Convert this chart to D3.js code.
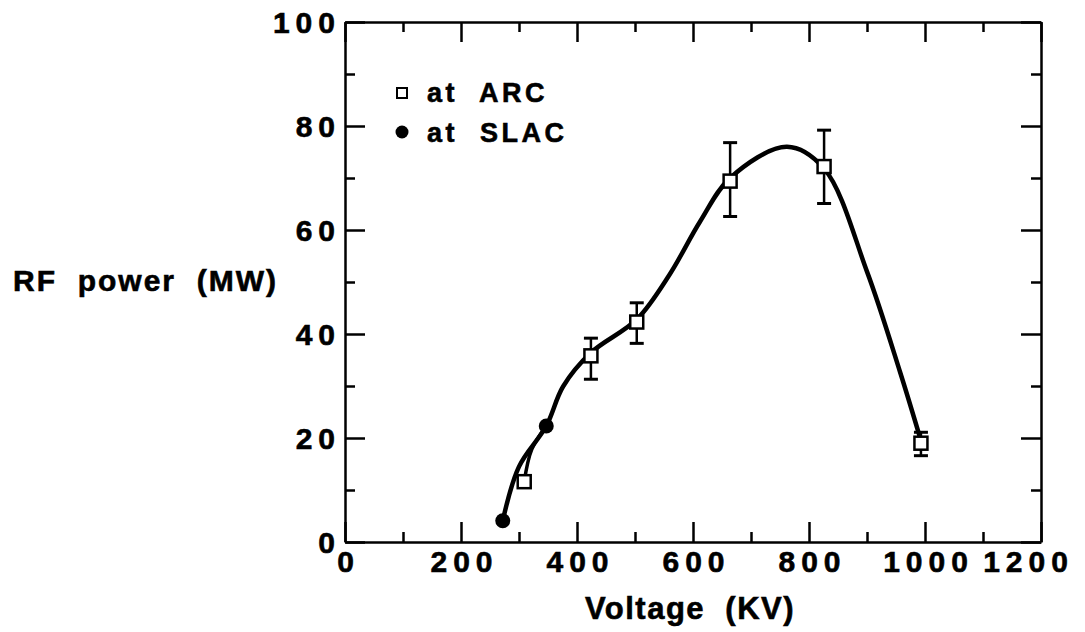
<!DOCTYPE html>
<html>
<head>
<meta charset="utf-8">
<script src="https://cdn.jsdelivr.net/npm/d3@7/dist/d3.min.js"></script>
<style>
  html, body { margin: 0; padding: 0; background: #fff; }
  svg { display: block; }
  text { font-family: "Liberation Sans", Arial, Helvetica, sans-serif; font-weight: bold; fill: #000; stroke: #000; stroke-width: 0.6px; }
</style>
</head>
<body>
<svg id="chart" width="1085" height="632"></svg>
<script>
// ---- data ----
const arcVoltage = [309, 424, 503, 664, 826, 993];
const arcPower   = [11.6, 35.8, 42.3, 69.4, 72.2, 19.0];
const arcErrLow  = [11.6, 31.3, 38.2, 62.6, 65.1, 16.6];
const arcErrHigh = [11.6, 39.2, 46.0, 76.8, 79.2, 21.1];

const slacVoltage = [272, 347];
const slacPower   = [4.1, 22.3];

// hand-drawn fit curve through the measurements
const fitVoltage = [272, 300, 347, 376, 424, 503, 560, 612, 664, 762, 826, 900, 957, 993];
const fitPower   = [4.1, 14.5, 22.3, 29.9, 36.4, 42.8, 51.5, 61.6, 70.0, 76.0, 71.8, 52.0, 32.7, 19.5];
// short branch from the first ARC point
const branchVoltage = [309, 322, 347];
const branchPower   = [11.6, 17.8, 22.3];

const xTicks = [0, 200, 400, 600, 800, 1000, 1200];
const xMinor = [100, 300, 500, 700, 900, 1100];
const yTicks = [0, 20, 40, 60, 80, 100];
const yMinor = [10, 30, 50, 70, 90];

const legendLabels = ["at  ARC", "at  SLAC"];
const xTitle = "Voltage  (KV)";
const yTitle = "RF  power  (MW)";

// ---- layout ----
const svg = d3.select("#chart");
const L = 345, R = 1041, T = 22, B = 542;
const x = d3.scaleLinear().domain([0, 1200]).range([L, R]);
const y = d3.scaleLinear().domain([0, 100]).range([B, T]);

const MAJ = 20, MIN = 10;
const axisStroke = 2.5;

function styleAxis(g) {
  g.select(".domain").attr("stroke", "#000").attr("stroke-width", axisStroke);
  g.selectAll(".tick line").attr("stroke", "#000").attr("stroke-width", 2.5);
}
function minorOnly(g) {
  g.select(".domain").remove();
  g.selectAll(".tick line").attr("stroke", "#000").attr("stroke-width", 2.5);
}

// bottom axis (major with labels)
const gBottom = svg.append("g").attr("transform", `translate(0,${B})`)
  .call(d3.axisBottom(x).tickValues(xTicks).tickSize(-MAJ).tickSizeOuter(0).tickPadding(9).tickFormat(d3.format("d")));
styleAxis(gBottom);
gBottom.selectAll(".tick text")
  .style("font-size", "30px").style("letter-spacing", "6px").attr("dx", 3)
  .attr("transform", d => d === 1200 ? "translate(-16,0)" : null);
svg.append("g").attr("transform", `translate(0,${B})`)
  .call(d3.axisBottom(x).tickValues(xMinor).tickSize(-MIN).tickSizeOuter(0).tickFormat(""))
  .call(minorOnly);

// top axis
const gTop = svg.append("g").attr("transform", `translate(0,${T})`)
  .call(d3.axisTop(x).tickValues(xTicks).tickSize(-MAJ).tickSizeOuter(0).tickFormat(""));
styleAxis(gTop);
svg.append("g").attr("transform", `translate(0,${T})`)
  .call(d3.axisTop(x).tickValues(xMinor).tickSize(-MIN).tickSizeOuter(0).tickFormat(""))
  .call(minorOnly);

// left axis (with labels)
const gLeft = svg.append("g").attr("transform", `translate(${L},0)`)
  .call(d3.axisLeft(y).tickValues(yTicks).tickSize(-MAJ).tickSizeOuter(0).tickPadding(4).tickFormat(d3.format("d")));
styleAxis(gLeft);
gLeft.selectAll(".tick text").style("font-size", "30px").style("letter-spacing", "6px").attr("dy", "0.36em");
svg.append("g").attr("transform", `translate(${L},0)`)
  .call(d3.axisLeft(y).tickValues(yMinor).tickSize(-MIN).tickSizeOuter(0).tickFormat(""))
  .call(minorOnly);

// right axis
const gRight = svg.append("g").attr("transform", `translate(${R},0)`)
  .call(d3.axisRight(y).tickValues(yTicks).tickSize(-MAJ).tickSizeOuter(0).tickFormat(""));
styleAxis(gRight);
svg.append("g").attr("transform", `translate(${R},0)`)
  .call(d3.axisRight(y).tickValues(yMinor).tickSize(-MIN).tickSizeOuter(0).tickFormat(""))
  .call(minorOnly);

// ---- axis titles ----
svg.append("text").attr("x", (L + R) / 2 - 3).attr("y", 619)
  .attr("text-anchor", "middle").style("font-size", "31px").style("letter-spacing", "1.5px")
  .style("white-space", "pre").text(xTitle);
svg.append("text").attr("x", 13).attr("y", 291)
  .attr("text-anchor", "start").style("font-size", "30px").style("letter-spacing", "2px")
  .style("white-space", "pre").text(yTitle);

// ---- fit curves ----
const line = d3.line().x(d => x(d[0])).y(d => y(d[1])).curve(d3.curveCatmullRom.alpha(0.5));
svg.append("path").datum(d3.zip(fitVoltage, fitPower))
  .attr("d", line).attr("fill", "none").attr("stroke", "#000").attr("stroke-width", 4.5)
  .attr("stroke-linecap", "round").attr("stroke-linejoin", "round");
svg.append("path").datum(d3.zip(branchVoltage, branchPower))
  .attr("d", line).attr("fill", "none").attr("stroke", "#000").attr("stroke-width", 3.5)
  .attr("stroke-linecap", "round");

// ---- error bars ----
const arc = arcVoltage.map((v, i) => ({ v, p: arcPower[i], lo: arcErrLow[i], hi: arcErrHigh[i] }));
const withErr = arc.filter(d => d.hi > d.lo);
const eb = svg.append("g").attr("stroke", "#000");
eb.selectAll("line.v").data(withErr).join("line")
  .attr("x1", d => x(d.v)).attr("x2", d => x(d.v))
  .attr("y1", d => y(d.lo)).attr("y2", d => y(d.hi)).attr("stroke-width", 2.5);
["lo", "hi"].forEach(k => {
  eb.selectAll("line.c" + k).data(withErr).join("line")
    .attr("x1", d => x(d.v) - 7).attr("x2", d => x(d.v) + 7)
    .attr("y1", d => y(d[k])).attr("y2", d => y(d[k])).attr("stroke-width", 3);
});

// ---- markers ----
const S = 13;
svg.append("g").selectAll("rect").data(arc).join("rect")
  .attr("x", d => x(d.v) - S / 2).attr("y", d => y(d.p) - S / 2)
  .attr("width", S).attr("height", S)
  .attr("fill", "#fff").attr("stroke", "#000").attr("stroke-width", 2.5);
svg.append("g").selectAll("circle").data(d3.zip(slacVoltage, slacPower)).join("circle")
  .attr("cx", d => x(d[0])).attr("cy", d => y(d[1])).attr("r", 7.5).attr("fill", "#000");

// ---- legend ----
const lg = svg.append("g");
lg.append("rect").attr("x", 397).attr("y", 88).attr("width", 10).attr("height", 10)
  .attr("fill", "#fff").attr("stroke", "#000").attr("stroke-width", 2);
lg.append("circle").attr("cx", 402).attr("cy", 132).attr("r", 6.5).attr("fill", "#000");
lg.selectAll("text").data(legendLabels).join("text")
  .attr("x", 427).attr("y", (d, i) => 102 + i * 40)
  .style("font-size", "27px").style("letter-spacing", "3.5px").style("white-space", "pre")
  .text(d => d);
</script>
</body>
</html>
